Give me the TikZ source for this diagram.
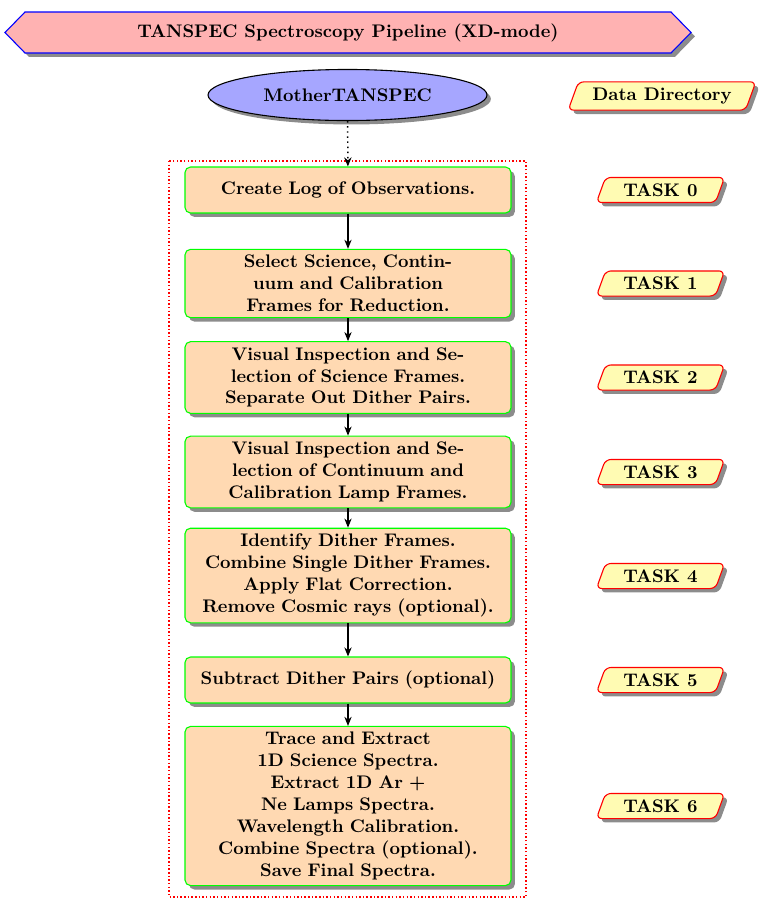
\documentclass[tikz,border=0pt]{standalone}
\usetikzlibrary{shapes.geometric,shadows,arrows.meta}
\begin{document}
\begin{tikzpicture}[x=0.5485pt,y=-0.5485pt,font=\bfseries,
  shad/.style={drop shadow={opacity=0.9, fill=black!50}},
  procbox/.style={rectangle, rounded corners=3pt, draw=green, semithick, fill=orange!30,
    shad, text width=172pt, inner xsep=3.4pt, inner ysep=3.2pt,
    align=center, minimum height=25.2pt},
  taskbox/.style={trapezium, trapezium left angle=70, trapezium right angle=110,
    rounded corners=3pt, draw=red, semithick, fill=yellow!30, shad, inner xsep=9.8pt},
  flow/.style={-{Stealth[length=5pt,width=4pt]}, semithick}]
\useasboundingbox (0,0) rectangle (761,909);

% header banner
\draw[blue, semithick, fill=red!30, shad] (5,32.5) -- (25,12) -- (671,12) -- (691,32.5) -- (671,53) -- (25,53) -- cycle;
\node (title) at (348,32.5) {TANSPEC Spectroscopy Pipeline (XD-mode)};

% mother node
\node[ellipse, draw=black, semithick, fill=blue!35, shad, minimum width=153pt,
      minimum height=28pt, inner sep=0pt] (mother) at (347.5,95) {MotherTANSPEC};
\node[taskbox, inner xsep=7.6pt] (dd) at (662,96) {Data Directory};

% red dotted frame
\draw[red, line width=0.8pt, dash pattern=on 0.8pt off 1.2pt] (169,161) rectangle (526,897);

% process boxes
\node[procbox] (b0) at (348,190) {Create Log of Observations.};
\node[procbox] (b1) at (348,283.5) {Select Science, Contin-\\uum and Calibration\\Frames for Reduction.};
\node[procbox] (b2) at (348,377.5) {Visual Inspection and Se-\\lection of Science Frames.\\Separate Out Dither Pairs.};
\node[procbox] (b3) at (348,472) {Visual Inspection and Se-\\lection of Continuum and\\Calibration Lamp Frames.};
\node[procbox] (b4) at (348,575.5) {Identify Dither Frames.\\Combine Single Dither Frames.\\Apply Flat Correction.\\Remove Cosmic rays (optional).};
\node[procbox] (b5) at (348,680) {Subtract Dither Pairs (optional)};
\node[procbox] (b6) at (348,806) {Trace and Extract\\1D Science Spectra.\\Extract 1D Ar +\\Ne Lamps Spectra.\\Wavelength Calibration.\\Combine Spectra (optional).\\Save Final Spectra.};

% task labels
\node[taskbox] (t0) at (660.5,190) {TASK 0};
\node[taskbox] (t1) at (660.5,283.5) {TASK 1};
\node[taskbox] (t2) at (660.5,377.5) {TASK 2};
\node[taskbox] (t3) at (660.5,472) {TASK 3};
\node[taskbox] (t4) at (660.5,576) {TASK 4};
\node[taskbox] (t5) at (660.5,680) {TASK 5};
\node[taskbox] (t6) at (660.5,806) {TASK 6};

% connectors
\draw[flow, thick, dotted] (mother) -- (b0);
\draw[flow] (b0) -- (b1);
\draw[flow] (b1) -- (b2);
\draw[flow] (b2) -- (b3);
\draw[flow] (b3) -- (b4);
\draw[flow] (b4) -- (b5);
\draw[flow] (b5) -- (b6);
\end{tikzpicture}
\end{document}
